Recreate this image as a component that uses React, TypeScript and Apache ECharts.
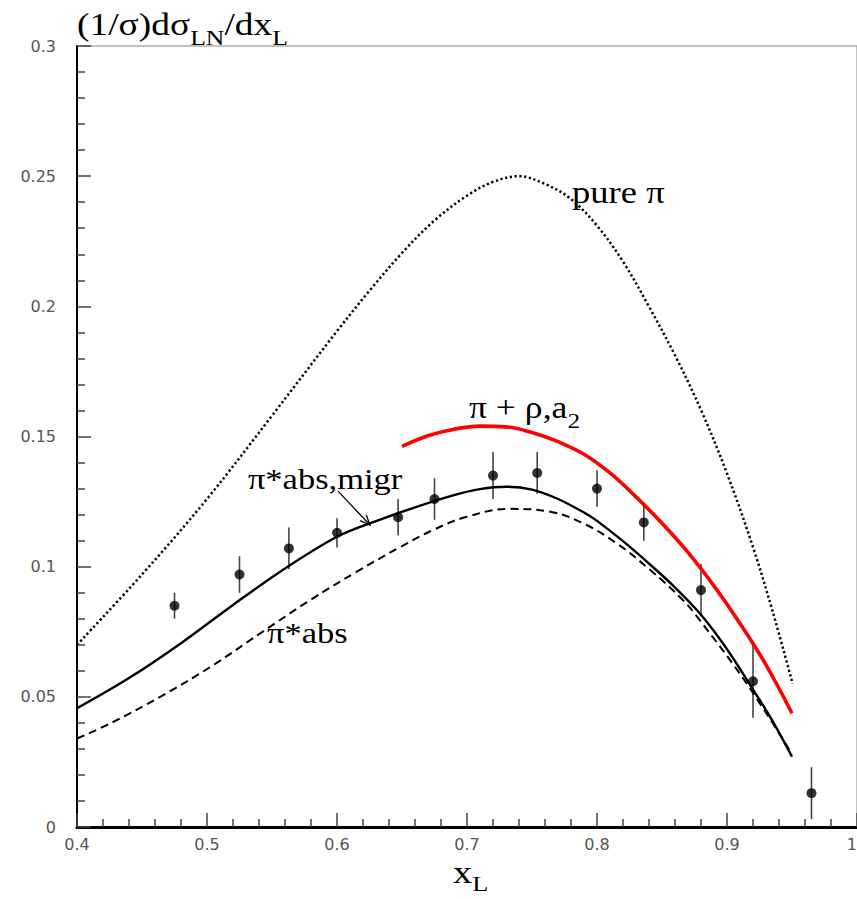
import React, { useEffect, useRef } from 'react';
import * as echarts from 'echarts';

// Measured points with errors
const dataX = [0.475, 0.525, 0.563, 0.6, 0.647, 0.675, 0.72, 0.754, 0.8, 0.836, 0.88, 0.92, 0.965];
const dataY = [0.085, 0.097, 0.107, 0.113, 0.119, 0.126, 0.135, 0.136, 0.130, 0.117, 0.091, 0.056, 0.013];
const dataErr = [0.005, 0.007, 0.008, 0.0056, 0.007, 0.008, 0.009, 0.008, 0.007, 0.007, 0.010, 0.014, 0.010];

// pure pi (dotted)
const pureX = [0.40, 0.45, 0.50, 0.55, 0.60, 0.625, 0.65, 0.675, 0.70, 0.72, 0.74, 0.76, 0.78, 0.80, 0.82, 0.84, 0.86, 0.88, 0.90, 0.92, 0.935, 0.9505];
const pureY = [0.070, 0.097, 0.126, 0.158, 0.1905, 0.2060, 0.2205, 0.2330, 0.2425, 0.2478, 0.2500, 0.2470, 0.2412, 0.2310, 0.2172, 0.1999, 0.1812, 0.1602, 0.1358, 0.1075, 0.083, 0.055];

// pi*abs,migr (solid)
const migrX = [0.40, 0.44, 0.48, 0.52, 0.56, 0.60, 0.63, 0.66, 0.69, 0.71, 0.73, 0.75, 0.77, 0.79, 0.80, 0.82, 0.84, 0.86, 0.88, 0.90, 0.92, 0.935, 0.95];
const migrY = [0.0456, 0.0572, 0.0706, 0.0853, 0.0993, 0.1115, 0.1175, 0.1228, 0.1275, 0.1298, 0.1307, 0.1296, 0.1260, 0.1208, 0.1176, 0.1098, 0.1012, 0.0920, 0.0815, 0.0683, 0.0528, 0.0408, 0.027];

// pi*abs (dashed)
const absX = [0.40, 0.4256, 0.464, 0.503, 0.541, 0.5795, 0.615, 0.6485, 0.674, 0.70, 0.733, 0.764, 0.7895, 0.815, 0.841, 0.866, 0.879, 0.915, 0.95];
const absY = [0.034, 0.0398, 0.050, 0.0616, 0.0744, 0.0872, 0.098, 0.1075, 0.1141, 0.1192, 0.1222, 0.1211, 0.1166, 0.109, 0.0987, 0.0872, 0.0795, 0.0552, 0.028];

// pi + rho,a2 (red)
const rhoX = [0.65, 0.67, 0.69, 0.71, 0.73, 0.75, 0.77, 0.79, 0.81, 0.83, 0.85, 0.87, 0.89, 0.91, 0.93, 0.95];
const rhoY = [0.1462, 0.1503, 0.1528, 0.1540, 0.1537, 0.1515, 0.1480, 0.1432, 0.1360, 0.1268, 0.1167, 0.1055, 0.0926, 0.0782, 0.0623, 0.0437];

// Annotation anchors (left, baseline) in data coordinates
const labelPure = { x: 0.7808, y: 0.2397 };
const labelRho = { x: 0.7015, y: 0.1571 };
const labelMigr = { x: 0.5315, y: 0.1297 };
const labelAbs = { x: 0.5462, y: 0.0706 };
const arrowFrom = { x: 0.6008, y: 0.129 };
const arrowTo = { x: 0.6254, y: 0.116 };

const SERIF = 'Liberation Serif';
const SX = 1.15;

const zip = (xs: number[], ys: number[]) => xs.map((x, i) => [x, ys[i]]);

export default function App() {
  const ref = useRef<HTMLDivElement>(null);
  useEffect(() => {
    const chart = echarts.init(ref.current!, null, { renderer: 'svg' });
    const tickFmt = (v: number) => String(+v.toFixed(3));
    const option: any = {
      animation: false,
      backgroundColor: '#fff',
      grid: {
        left: 77, right: 0, top: 46, bottom: 72,
        show: true, borderColor: '#888', borderWidth: 1,
        containLabel: false, outerBoundsMode: 'none',
      },
      xAxis: {
        type: 'value', min: 0.4, max: 1.0, interval: 0.1,
        splitLine: { show: false },
        axisLine: { show: true, onZero: false, lineStyle: { color: '#000', width: 3 } },
        axisTick: { show: true, inside: true, length: 14, lineStyle: { color: '#444', width: 1.5 } },
        minorTick: { show: true, splitNumber: 5, length: 8, lineStyle: { color: '#444', width: 1.5 } },
        axisLabel: { formatter: tickFmt, fontFamily: 'DejaVu Sans', fontSize: 16, color: '#555', margin: 9, showMaxLabel: true, alignMaxLabel: 'right' },
      },
      yAxis: {
        type: 'value', min: 0, max: 0.3, interval: 0.05,
        splitLine: { show: false },
        axisLine: { show: true, onZero: false, lineStyle: { color: '#000', width: 2 } },
        axisTick: { show: true, inside: true, length: 14, lineStyle: { color: '#444', width: 1.5 } },
        minorTick: { show: true, splitNumber: 5, length: 8, lineStyle: { color: '#444', width: 1.5 } },
        axisLabel: { formatter: tickFmt, fontFamily: 'DejaVu Sans', fontSize: 16, color: '#555', margin: 21 },
      },
      series: [
        {
          type: 'line', name: 'pure pi', data: zip(pureX, pureY), smooth: 0.35, symbol: 'none',
          lineStyle: { color: '#000', width: 2.5, type: [2.2, 2.6] },
        },
        {
          type: 'line', name: 'pi*abs', data: zip(absX, absY), smooth: 0.4, symbol: 'none',
          lineStyle: { color: '#000', width: 2, type: [8, 5] },
        },
        {
          type: 'line', name: 'pi*abs,migr', data: zip(migrX, migrY), smooth: 0.35, symbol: 'none',
          lineStyle: { color: '#000', width: 2.4 },
        },
        {
          type: 'line', name: 'pi+rho,a2', data: zip(rhoX, rhoY), smooth: 0.4, symbol: 'none',
          lineStyle: { color: '#ff0000', width: 3.6 },
        },
        {
          type: 'custom', name: 'errors',
          data: dataX.map((x, i) => [x, dataY[i] - dataErr[i], dataY[i] + dataErr[i]]),
          encode: { x: 0, y: [1, 2] },
          renderItem: (_p: any, api: any) => {
            const x = api.value(0);
            const lo = api.coord([x, api.value(1)]);
            const hi = api.coord([x, api.value(2)]);
            return {
              type: 'line',
              shape: { x1: lo[0], y1: lo[1], x2: hi[0], y2: hi[1] },
              style: { stroke: '#444', lineWidth: 1.6 },
            };
          },
          z: 3,
        },
        {
          type: 'scatter', name: 'data', data: zip(dataX, dataY), symbol: 'circle', symbolSize: 10,
          itemStyle: { color: '#000' }, z: 4,
        },
      ],
    };
    chart.setOption(option);

    const toPx = (x: number, y: number) => chart.convertToPixel({ gridIndex: 0 }, [x, y]) as number[];
    const ctx = document.createElement('canvas').getContext('2d')!;

    type Part = { t: string; size: number; dy: number };
    const run = (parts: Part[], x0: number, baseY: number, sx: number) => {
      const out: any[] = [];
      let x = x0;
      for (const p of parts) {
        ctx.font = `${p.size}px "${SERIF}"`;
        const w = ctx.measureText(p.t).width * sx;
        out.push({
          type: 'text', x, y: baseY + p.dy - 0.34 * p.size, scaleX: sx, z: 10,
          style: { text: p.t, x: 0, y: 0, fontFamily: SERIF, fontSize: p.size, fill: '#000', align: 'left', verticalAlign: 'middle' },
        });
        x += w;
      }
      return out;
    };

    const g: any[] = [];
    const origin = toPx(0.4, 0.3);
    // y-axis title
    g.push(...run([
      { t: '(1/σ)dσ', size: 32, dy: 0 },
      { t: 'LN', size: 22, dy: 10 },
      { t: '/dx', size: 32, dy: 0 },
      { t: 'L', size: 22, dy: 10 },
    ], origin[0], origin[1] - 11, 1.17));
    // x-axis title
    const xt = toPx(0.7, 0);
    g.push(...run([
      { t: 'x', size: 32, dy: 0 },
      { t: 'L', size: 22, dy: 8 },
    ], xt[0] - 14, xt[1] + 56, 1.2));

    const pPure = toPx(labelPure.x, labelPure.y);
    g.push(...run([{ t: 'pure π', size: 31, dy: 0 }], pPure[0], pPure[1], 1.18));
    const pRho = toPx(labelRho.x, labelRho.y);
    g.push(...run([
      { t: 'π + ρ,a', size: 31, dy: 0 },
      { t: '2', size: 22, dy: 10 },
    ], pRho[0], pRho[1], SX));
    const pMigr = toPx(labelMigr.x, labelMigr.y);
    g.push(...run([{ t: 'π*abs,migr', size: 30, dy: 0 }], pMigr[0], pMigr[1], SX));
    const pAbs = toPx(labelAbs.x, labelAbs.y);
    g.push(...run([{ t: 'π*abs', size: 30, dy: 0 }], pAbs[0], pAbs[1], SX));

    // arrow
    const a0 = toPx(arrowFrom.x, arrowFrom.y);
    const a1 = toPx(arrowTo.x, arrowTo.y);
    const ang = Math.atan2(a1[1] - a0[1], a1[0] - a0[0]);
    const hl = 11, ha = 0.4;
    g.push({ type: 'line', z: 10, shape: { x1: a0[0], y1: a0[1], x2: a1[0], y2: a1[1] }, style: { stroke: '#000', lineWidth: 1.3 } });
    g.push({
      type: 'polyline', z: 10,
      shape: {
        points: [
          [a1[0] - hl * Math.cos(ang - ha), a1[1] - hl * Math.sin(ang - ha)],
          [a1[0], a1[1]],
          [a1[0] - hl * Math.cos(ang + ha), a1[1] - hl * Math.sin(ang + ha)],
        ],
      },
      style: { stroke: '#000', lineWidth: 1.3, fill: 'none' },
    });

    chart.setOption({ graphic: g });
    return () => chart.dispose();
  }, []);
  return <div ref={ref} style={{ position: 'fixed', left: 0, top: 0, width: 857, height: 899 }} />;
}
